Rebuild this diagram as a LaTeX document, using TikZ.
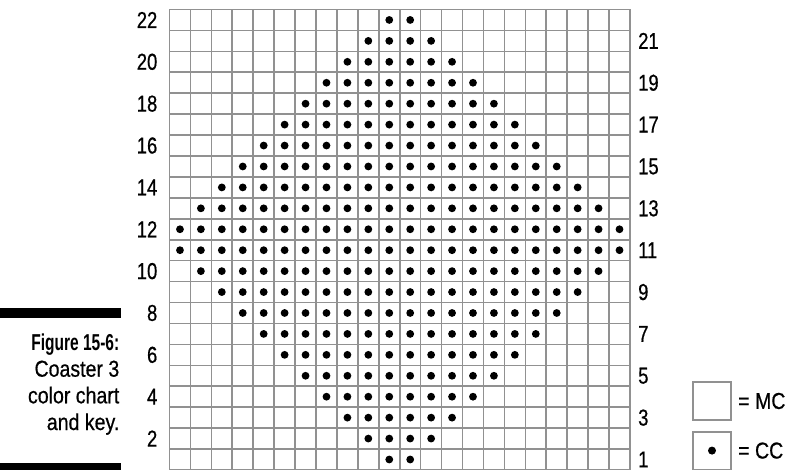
\documentclass[tikz,border=0pt]{standalone}
\usepackage{fontspec}
\setmainfont{Liberation Sans}[FakeStretch=0.8,UprightFeatures={FakeBold=0.6}]
\newfontfamily\capfont{Liberation Sans}[FakeStretch=0.85,UprightFeatures={FakeBold=0.6},BoldFeatures={FakeStretch=0.675}]
\definecolor{gridgray}{RGB}{145,145,145}
\tikzset{
  gridline/.style={draw=gridgray,line width=1.6pt},
  ccdot/.style={fill=black},
  numlabel/.style={inner sep=0pt,font=\fontsize{23}{27}\selectfont},
  captionline/.style={anchor=base east,inner sep=0pt,font=\capfont\fontsize{23}{27}\selectfont},
  keytext/.style={anchor=west,inner sep=0pt,font=\capfont\fontsize{23}{27}\selectfont}
}
\begin{document}
\begin{tikzpicture}[x=1pt,y=-1pt]
\useasboundingbox (0,0) rectangle (791,470);
\def\gx{169.5}
\def\gy{9.5}
\def\cs{20.93}
% grid
\foreach \i in {0,...,22}{
  \draw[gridline] ({\gx+\i*\cs},\gy) -- ({\gx+\i*\cs},{\gy+22*\cs});
  \draw[gridline] (\gx,{\gy+\i*\cs}) -- ({\gx+22*\cs},{\gy+\i*\cs});
}
% dots
\foreach \n in {1,...,22}{
  \pgfmathtruncatemacro\k{\n<12 ? \n : 23-\n}
  \pgfmathtruncatemacro\a{12-\k}
  \pgfmathtruncatemacro\b{11+\k}
  \foreach \c in {\a,...,\b}{
    \fill[ccdot] ({\gx+(\c-0.5)*\cs},{\gy+(22-\n+0.5)*\cs}) circle[radius=3.9pt];
  }
}
% row numbers
\foreach \n in {2,4,...,22}{
  \node[numlabel,anchor=east] (L\n) at (157.5,{\gy+(22-\n+0.5)*\cs}) {\n};
}
\foreach \n in {1,3,...,21}{
  \node[numlabel,anchor=west] (R\n) at (638,{\gy+(22-\n+0.5)*\cs}) {\n};
}
% caption
\fill (0,308) rectangle (120.5,318);
\fill (0,463) rectangle (120.5,471);
\node[captionline] (cap1) at (119.5,350) {\bfseries Figure 15-6:};
\node[captionline] (cap2) at (119.5,376.7) {Coaster 3};
\node[captionline] (cap3) at (119.5,403.3) {color chart};
\node[captionline] (cap4) at (119.5,430) {and key.};
% key
\draw[gridline] (693,382) rectangle (731,420);
\draw[gridline] (693,432) rectangle (731,469.3);
\fill[ccdot] (712,450.6) circle[radius=4pt];
\node[keytext] (mc) at (738,401) {= MC};
\node[keytext] (cc) at (738,450.6) {= CC};
\end{tikzpicture}
\end{document}
